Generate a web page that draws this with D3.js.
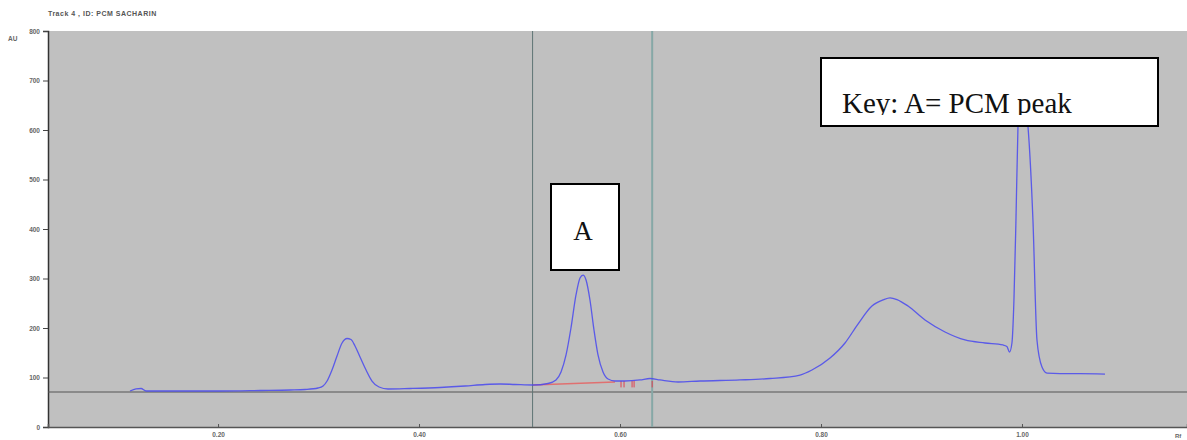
<!DOCTYPE html>
<html>
<head>
<meta charset="utf-8">
<script src="https://cdn.jsdelivr.net/npm/d3@7"></script>
<style>
  html, body { margin: 0; padding: 0; background: #ffffff; }
  svg { display: block; }
</style>
</head>
<body>
<svg id="chart" width="1187" height="440"></svg>
<script>
// Densitometric scan of track 4 (Rf vs absorbance units)
const rfValues = [0.1124, 0.1184, 0.1234, 0.1284, 0.162, 0.202, 0.242, 0.272, 0.2866, 0.2995,
  0.3045, 0.3085, 0.3134, 0.3184, 0.3234, 0.3284, 0.3323, 0.3363, 0.3413, 0.3473,
  0.3532, 0.3602, 0.3692, 0.391, 0.4209, 0.4458, 0.4657, 0.4806, 0.4955, 0.5134,
  0.5284, 0.5363, 0.5413, 0.5463, 0.5512, 0.5562, 0.5602, 0.5632, 0.5662, 0.5701,
  0.5741, 0.5781, 0.5831, 0.5881, 0.595, 0.605, 0.6199, 0.6299, 0.6398, 0.6577,
  0.6796, 0.7194, 0.7493, 0.7791, 0.791, 0.809, 0.8239, 0.8368, 0.8507, 0.862,
  0.8687, 0.8756, 0.8866, 0.9035, 0.9234, 0.9433, 0.9632, 0.9811, 0.985, 0.9876,
  0.990, 0.992, 0.994, 0.996, 0.9985, 1.001, 1.003, 1.006, 1.0109, 1.0149,
  1.0199, 1.0249, 1.0378, 1.0577, 1.0826];
const auValues = [72.7, 76.8, 77.8, 72.7, 72.7, 72.7, 73.7, 74.7, 75.8, 78.8,
  82.8, 92.9, 115.2, 143.4, 169.7, 178.8, 176.8, 163.6, 141.4, 115.2,
  92.9, 80.8, 76.8, 77.8, 79.8, 82.8, 85.9, 86.9, 85.9, 84.8,
  87.9, 94.9, 111.1, 145.5, 200, 266.7, 301, 307, 297, 256.6,
  196, 145.5, 111.1, 97, 92.9, 92.9, 95, 98, 95, 90.9,
  92.9, 95, 98, 105, 115.2, 139.4, 169.7, 208, 244.4, 257,
  261, 257.5, 244.4, 216, 192, 175.8, 169.7, 165.7, 162.6, 151.5,
  169.7, 256.6, 418, 606, 680, 690, 660, 606, 418, 175.8,
  121.2, 109, 108, 108, 107];

// Integration baseline under peak A and the peak-boundary markers
const baselineRf = [0.5134, 0.595];
const baselineAu = [84.8, 91];
const markerRf = [0.601, 0.604, 0.612, 0.614, 0.632];

// Cursor lines and threshold
const cursorRf = [0.513, 0.632];
const thresholdAu = 70.7;

const xTicks = [0.2, 0.4, 0.6, 0.8, 1.0];
const yTicks = [0, 100, 200, 300, 400, 500, 600, 700, 800];

const titleText = "Track  4 , ID: PCM SACHARIN";
const peakLabel = "A";
const keyLabel = "Key: A= PCM peak";

const svg = d3.select("#chart");
const plotL = 48, plotR = 1187, plotT = 31, plotB = 427;

const x = d3.scaleLinear().domain([0.0308, 1.1642]).range([plotL, plotR]);
const y = d3.scaleLinear().domain([0, 800]).range([plotB, plotT]);

// plot background
svg.append("rect")
  .attr("x", plotL).attr("y", plotT)
  .attr("width", plotR - plotL).attr("height", plotB - plotT)
  .attr("fill", "#c0c0c0");

// title and unit
svg.append("text").attr("x", 48).attr("y", 16)
  .attr("font-family", "Liberation Sans, Arial, sans-serif")
  .attr("font-size", 7).attr("font-weight", "bold").attr("fill", "#555")
  .attr("letter-spacing", 0.5)
  .text(titleText);
svg.append("text").attr("x", 8).attr("y", 41)
  .attr("font-family", "Liberation Sans, Arial, sans-serif")
  .attr("font-size", 6.5).attr("font-weight", "bold").attr("fill", "#666")
  .text("AU");

// y axis
const yAxis = d3.axisLeft(y).tickValues(yTicks).tickSize(5).tickPadding(3)
  .tickFormat(d3.format("d"));
const gy = svg.append("g").attr("transform", `translate(${plotL},0)`).call(yAxis);
gy.select(".domain").attr("stroke", "#333").attr("stroke-width", 1.5);
gy.selectAll(".tick line").attr("stroke", "#444");
gy.selectAll(".tick text")
  .attr("font-family", "Liberation Sans, Arial, sans-serif")
  .attr("font-size", 6.5).attr("font-weight", "bold").attr("fill", "#666");

// x axis
const xAxis = d3.axisBottom(x).tickValues(xTicks).tickSize(-3).tickPadding(5)
  .tickFormat(d3.format(".2f"));
const gx = svg.append("g").attr("transform", `translate(0,${plotB})`).call(xAxis);
gx.select(".domain").attr("stroke", "#555").attr("stroke-width", 1.5);
gx.selectAll(".tick line").attr("stroke", "#555");
gx.selectAll(".tick text")
  .attr("font-family", "Liberation Sans, Arial, sans-serif")
  .attr("font-size", 6.5).attr("font-weight", "bold").attr("fill", "#666");

svg.append("text").attr("x", 1175).attr("y", 438)
  .attr("font-family", "Liberation Sans, Arial, sans-serif")
  .attr("font-size", 6).attr("font-weight", "bold").attr("fill", "#666")
  .text("Rf");

// threshold line
svg.append("line")
  .attr("x1", plotL).attr("x2", plotR)
  .attr("y1", y(thresholdAu)).attr("y2", y(thresholdAu))
  .attr("stroke", "#555").attr("stroke-width", 1.2);

// cursor lines
svg.append("line")
  .attr("x1", x(cursorRf[0])).attr("x2", x(cursorRf[0]))
  .attr("y1", plotT).attr("y2", plotB)
  .attr("stroke", "#5f7575").attr("stroke-width", 1);
svg.append("line")
  .attr("x1", x(cursorRf[1])).attr("x2", x(cursorRf[1]))
  .attr("y1", plotT).attr("y2", plotB)
  .attr("stroke", "#86a8a6").attr("stroke-width", 2);

// integration baseline
svg.append("line")
  .attr("x1", x(baselineRf[0])).attr("x2", x(baselineRf[1]))
  .attr("y1", y(baselineAu[0])).attr("y2", y(baselineAu[1]))
  .attr("stroke", "#e07070").attr("stroke-width", 1.5);

svg.selectAll("line.marker").data(markerRf).join("line")
  .attr("class", "marker")
  .attr("x1", d => x(d)).attr("x2", d => x(d))
  .attr("y1", y(93)).attr("y2", y(80))
  .attr("stroke", "#e04050").attr("stroke-width", 1);

// scan trace
const scan = rfValues.map((r, i) => [r, auValues[i]]);
svg.append("path")
  .datum(scan)
  .attr("fill", "none")
  .attr("stroke", "#4848ee")
  .attr("stroke-width", 1.3)
  .attr("stroke-opacity", 0.85)
  .attr("d", d3.line().x(d => x(d[0])).y(d => y(d[1])).curve(d3.curveMonotoneX));

// peak label box
svg.append("rect")
  .attr("x", 551).attr("y", 184).attr("width", 68).attr("height", 86)
  .attr("fill", "#fff").attr("stroke", "#000").attr("stroke-width", 2);
svg.append("text").attr("x", 583).attr("y", 240)
  .attr("text-anchor", "middle")
  .attr("font-family", "Liberation Serif, Times New Roman, serif")
  .attr("font-size", 27).attr("fill", "#111")
  .text(peakLabel);

// key box
svg.append("defs").append("clipPath").attr("id", "keyClip")
  .append("rect").attr("x", 822).attr("y", 58).attr("width", 335).attr("height", 57);
svg.append("rect")
  .attr("x", 821).attr("y", 58).attr("width", 337).attr("height", 68)
  .attr("fill", "#fff").attr("stroke", "#000").attr("stroke-width", 2);
svg.append("text").attr("x", 842).attr("y", 113)
  .attr("clip-path", "url(#keyClip)")
  .attr("font-family", "Liberation Serif, Times New Roman, serif")
  .attr("font-size", 29).attr("fill", "#111")
  .text(keyLabel);
</script>
</body>
</html>
